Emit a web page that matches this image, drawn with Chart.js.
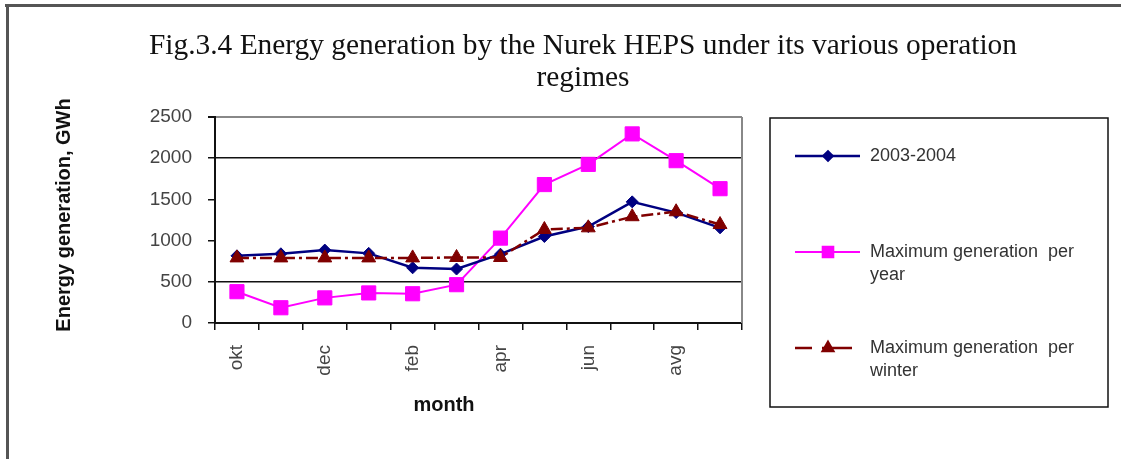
<!DOCTYPE html>
<html>
<head>
<meta charset="utf-8">
<script src="https://cdn.jsdelivr.net/npm/chart.js@4.4.1/dist/chart.umd.min.js"></script>
<style>
  html, body { margin: 0; padding: 0; background: #fff; }
  #wrap { width: 1121px; height: 459px; }
</style>
</head>
<body>
<div id="wrap"><canvas id="chart" width="1121" height="459"></canvas></div>
<script>
// data
const months = ['okt', 'nov', 'dec', 'jan', 'feb', 'mar', 'apr', 'may', 'jun', 'jul', 'avg', 'sep'];
const gen2003 = [815, 840, 885, 845, 670, 655, 835, 1050, 1170, 1470, 1340, 1155];
const maxPerYear = [380, 185, 305, 365, 355, 465, 1030, 1680, 1925, 2295, 1970, 1630];
const maxPerWinter = [790, 790, 790, 790, 790, 795, 795, 1135, 1155, 1290, 1350, 1195];
const yTicks = [0, 500, 1000, 1500, 2000, 2500];
const seriesNames = ['2003-2004', ['Maximum generation  per', 'year'], ['Maximum generation  per', 'winter']];
const titleLines = ['Fig.3.4 Energy generation by the Nurek HEPS under its various operation', 'regimes'];

// plot area box
const AREA = { left: 215, top: 117, right: 742, bottom: 323 };

function fitFont(ctx, text, weight, family, width) {
  ctx.font = weight + ' 100px ' + family;
  return 100 * width / ctx.measureText(text).width;
}

const decorations = {
  id: 'decorations',
  afterDraw(chart) {
    const ctx = chart.ctx;
    const a = chart.chartArea;
    ctx.save();

    // outer frame (top and left only)
    ctx.fillStyle = '#555';
    ctx.fillRect(5, 4, 1116, 3);
    ctx.fillRect(6, 4, 3, 455);

    // right border of plot area
    ctx.strokeStyle = '#888';
    ctx.lineWidth = 2;
    ctx.beginPath();
    ctx.moveTo(a.right, a.top);
    ctx.lineTo(a.right, a.bottom);
    ctx.stroke();

    // title
    ctx.fillStyle = '#111';
    ctx.textAlign = 'center';
    ctx.textBaseline = 'alphabetic';
    const tSize = fitFont(ctx, titleLines[0], 'normal', '"Liberation Serif", "Times New Roman", serif', 868);
    ctx.font = tSize.toFixed(1) + 'px "Liberation Serif", "Times New Roman", serif';
    ctx.fillText(titleLines[0], 583, 54);
    ctx.fillText(titleLines[1], 583, 86);

    // axis titles
    ctx.fillStyle = '#111';
    ctx.font = 'bold 20px "Liberation Sans", Arial, sans-serif';
    ctx.fillText('month', 444, 411);
    ctx.save();
    ctx.translate(70, 215);
    ctx.rotate(-Math.PI / 2);
    ctx.fillText('Energy generation, GWh', 0, 0);
    ctx.restore();

    // legend
    ctx.strokeStyle = '#111';
    ctx.lineWidth = 1.5;
    ctx.strokeRect(770, 118, 338, 289);
    const rowsY = [156, 252, 348];
    ctx.font = '18px "Liberation Sans", Arial, sans-serif';
    ctx.textAlign = 'left';
    ctx.textBaseline = 'middle';
    chart.data.datasets.forEach((ds, i) => {
      const y = rowsY[i];
      ctx.save();
      ctx.strokeStyle = ds.borderColor;
      ctx.lineWidth = ds.borderWidth;
      ctx.setLineDash(i === 2 ? [17, 10, 40, 0] : []);
      ctx.beginPath();
      ctx.moveTo(795, y);
      ctx.lineTo(i === 2 ? 852 : 860, y);
      ctx.stroke();
      ctx.setLineDash([]);
      ctx.fillStyle = ds.pointBackgroundColor;
      Chart.helpers.drawPoint(ctx, {
        pointStyle: ds.pointStyle,
        radius: ds.pointRadius * 0.75,
        borderWidth: 1
      }, 828, y);
      ctx.restore();
      ctx.fillStyle = '#333';
      const name = seriesNames[i];
      const lines = Array.isArray(name) ? name : [name];
      lines.forEach((t, k) => ctx.fillText(t, 870, y + k * 23));
    });

    ctx.restore();
  }
};

new Chart(document.getElementById('chart'), {
  type: 'line',
  data: {
    labels: months,
    datasets: [
      {
        label: '2003-2004',
        data: gen2003,
        borderColor: '#000080',
        backgroundColor: '#000080',
        pointBackgroundColor: '#000080',
        pointBorderColor: '#000080',
        pointStyle: 'rectRot',
        pointRadius: 6,
        pointBorderWidth: 1,
        borderWidth: 2.5,
        order: 1
      },
      {
        label: 'Maximum generation per year',
        data: maxPerYear,
        borderColor: '#ff00ff',
        backgroundColor: '#ff00ff',
        pointBackgroundColor: '#ff00ff',
        pointBorderColor: '#ff00ff',
        pointStyle: 'rect',
        pointRadius: 10,
        pointBorderWidth: 1,
        borderWidth: 2,
        order: 2
      },
      {
        label: 'Maximum generation per winter',
        data: maxPerWinter,
        borderColor: '#800000',
        backgroundColor: '#800000',
        pointBackgroundColor: '#800000',
        pointBorderColor: '#800000',
        pointStyle: 'triangle',
        pointRadius: 8,
        pointBorderWidth: 1,
        borderWidth: 2.5,
        borderDash: [12, 4, 3, 4],
        order: 0
      }
    ]
  },
  options: {
    responsive: false,
    animation: false,
    devicePixelRatio: 1,
    layout: { padding: { left: 0, top: AREA.top, right: 1121 - AREA.right, bottom: 0 } },
    plugins: {
      legend: { display: false },
      title: { display: false },
      tooltip: { enabled: false }
    },
    scales: {
      x: {
        offset: true,
        afterFit: s => { s.height = 459 - AREA.bottom; },
        grid: {
          offset: true,
          drawOnChartArea: false,
          drawTicks: true,
          tickLength: 7,
          tickColor: '#111',
          lineWidth: 1.5
        },
        border: { color: '#111', width: 2 },
        ticks: {
          autoSkip: false,
          minRotation: 90,
          maxRotation: 90,
          padding: 15,
          color: '#444',
          font: { family: '"Liberation Sans", Arial, sans-serif', size: 19 },
          callback: (v, i) => (i % 2 === 0 ? months[i] : '')
        }
      },
      y: {
        min: yTicks[0],
        max: yTicks[yTicks.length - 1],
        afterFit: s => { s.width = AREA.left; },
        afterBuildTicks: s => { s.ticks = yTicks.map(v => ({ value: v })); },
        grid: {
          color: c => (c.tick.value === 500 || c.tick.value === 2000) ? '#111'
            : (c.tick.value === 2500 ? '#888' : 'rgba(0,0,0,0)'),
          lineWidth: c => (c.tick.value === 2500 ? 2 : 1.5),
          tickColor: '#111',
          tickLength: 7
        },
        border: { color: '#111', width: 2 },
        ticks: {
          padding: 16,
          color: '#444',
          font: { family: '"Liberation Sans", Arial, sans-serif', size: 19 },
          callback: v => String(v)
        }
      }
    }
  },
  plugins: [decorations]
});
</script>
</body>
</html>
